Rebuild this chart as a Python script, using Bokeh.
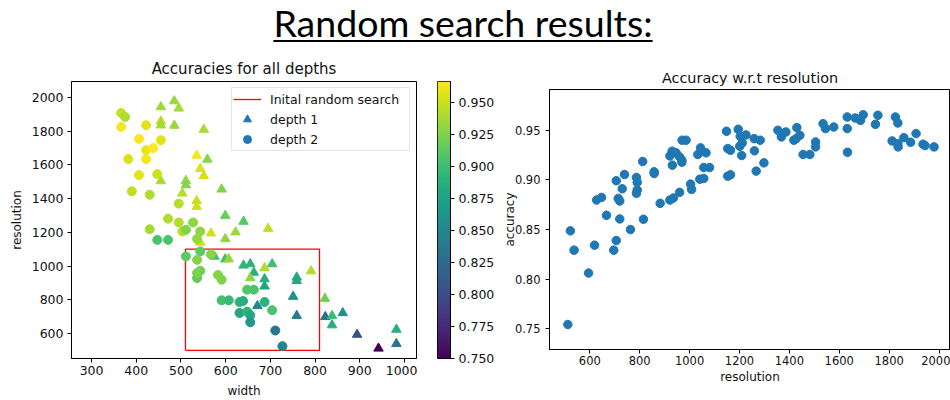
import numpy as np
from bokeh.plotting import figure
from bokeh.models import (ColumnDataSource, LinearColorMapper, FixedTicker,
                          PrintfTickFormatter, Range1d, Legend, LegendItem, Div)
from bokeh.layouts import column, row
from bokeh.palettes import Viridis256
from bokeh.embed import file_html
from bokeh.resources import INLINE

# ---------------- data: left plot (width vs resolution, colored by accuracy) -------------
depth1_width = [455, 485, 495, 455, 455, 485, 551, 535, 559, 543, 551, 511, 455, 511, 503,
                535, 535, 591, 599, 640, 567, 622, 695, 599, 543, 575, 599, 607, 640, 655,
                704, 663, 687, 655, 687, 687, 759, 759, 791, 751, 671, 759, 822, 823, 838,
                838, 862, 894, 942, 982, 982]
depth1_resolution = [1943, 1978, 1935, 1858, 1835, 1833, 1809, 1655, 1632, 1577, 1535, 1506, 1504,
                     1480, 1431, 1386, 1352, 1455, 1299, 1264, 1195, 1201, 1222, 1161, 1140, 1057,
                     1041, 1041, 1004, 1012, 1012, 962, 988, 929, 923, 880, 933, 913, 970, 819, 764,
                     706, 807, 699, 705, 650, 722, 594, 512, 624, 539]
depth1_accuracy = [0.935, 0.933, 0.936, 0.943, 0.937, 0.933, 0.939, 0.962, 0.928, 0.953, 0.952,
                   0.933, 0.938, 0.926, 0.942, 0.948, 0.950, 0.926, 0.917, 0.909, 0.951, 0.934,
                   0.945, 0.930, 0.949, 0.9015, 0.901, 0.932, 0.892, 0.8905, 0.900, 0.8875, 0.940,
                   0.929, 0.885, 0.876, 0.882, 0.880, 0.940, 0.860, 0.850, 0.839, 0.919, 0.829,
                   0.899, 0.886, 0.858, 0.806, 0.750, 0.885, 0.835]

depth2_width = [366, 375, 366, 422, 406, 455, 422, 438, 382, 422, 406, 447, 390, 430, 495,
                471, 430, 495, 527, 503, 511, 543, 447, 471, 536, 543, 511, 536, 567, 543,
                536, 536, 583, 591, 648, 663, 591, 607, 631, 639, 687, 704, 631, 648, 655,
                655, 711, 727]
depth2_resolution = [1907, 1884, 1825, 1835, 1754, 1746, 1687, 1700, 1634, 1634, 1539, 1545, 1443,
                     1423, 1370, 1281, 1218, 1258, 1258, 1205, 1215, 1205, 1155, 1155, 1161, 1087,
                     1057, 1037, 1069, 972, 929, 959, 947, 919, 860, 860, 797, 797, 787, 793, 787,
                     738, 722, 730, 709, 667, 618, 525]
depth2_accuracy = [0.947, 0.940, 0.963, 0.957, 0.965, 0.956, 0.960, 0.966, 0.955, 0.963, 0.957,
                   0.950, 0.945, 0.940, 0.943, 0.940, 0.937, 0.942, 0.929, 0.944, 0.925, 0.930,
                   0.904, 0.905, 0.932, 0.9125, 0.9125, 0.926, 0.927, 0.920, 0.915, 0.923, 0.927,
                   0.924, 0.908, 0.9065, 0.9025, 0.8975, 0.890, 0.8865, 0.890, 0.906, 0.879,
                   0.891, 0.881, 0.866, 0.834, 0.849]

# initial random search region
box_width = [510, 810]
box_resolution = [500, 1100]

# ---------------- data: right plot (accuracy vs resolution) ----------------
res_resolution = [512, 522, 537, 595, 619, 627, 647, 667, 696, 706, 706, 714, 720, 720, 730, 739,
                  763, 787, 790, 790, 787, 812, 815, 858, 858, 882, 921, 930, 931, 921, 935, 946,
                  960, 969, 969, 960, 970, 986, 1004, 1008, 1033, 1044, 1041, 1057, 1057, 1066,
                  1080, 1148, 1153, 1164, 1153, 1164, 1195, 1203, 1201, 1211, 1226, 1209, 1259,
                  1260, 1283, 1267, 1298, 1354, 1368, 1386, 1418, 1430, 1442, 1427, 1455, 1482,
                  1505, 1505, 1535, 1545, 1578, 1632, 1632, 1633, 1664, 1685, 1696, 1745, 1755,
                  1812, 1825, 1835, 1835, 1836, 1859, 1886, 1908, 1936, 1944, 1980]
res_accuracy = [0.7544, 0.8487, 0.8293, 0.8062, 0.8343, 0.8798, 0.8824, 0.8644, 0.8293, 0.8390,
                0.8992, 0.8814, 0.8788, 0.8607, 0.8911, 0.9055, 0.8500, 0.9025, 0.8975, 0.8898,
                0.8865, 0.9186, 0.8604, 0.9082, 0.9065, 0.8764, 0.9242, 0.9289, 0.9149, 0.8798,
                0.8818, 0.9273, 0.9232, 0.9199, 0.9179, 0.8875, 0.9400, 0.9400, 0.8958, 0.8905,
                0.9256, 0.9323, 0.9008, 0.9015, 0.9125, 0.9273, 0.9125, 0.9490, 0.9316, 0.9299,
                0.9038, 0.9052, 0.9510, 0.9440, 0.9339, 0.9373, 0.9453, 0.9246, 0.9416, 0.9293,
                0.9400, 0.9089, 0.9172, 0.9500, 0.9433, 0.9483, 0.9400, 0.9527, 0.9450, 0.9416,
                0.9256, 0.9256, 0.9383, 0.9333, 0.9567, 0.9517, 0.9533, 0.9634, 0.9517, 0.9279,
                0.9624, 0.9600, 0.9657, 0.9560, 0.9651, 0.9393, 0.9634, 0.9574, 0.9366, 0.9333,
                0.9426, 0.9380, 0.9467, 0.9360, 0.9346, 0.9333]

left_xticks = [300, 400, 500, 600, 700, 800, 900, 1000]
left_yticks = [600, 800, 1000, 1200, 1400, 1600, 1800, 2000]
cbar_ticks = [0.750, 0.775, 0.800, 0.825, 0.850, 0.875, 0.900, 0.925, 0.950]
right_xticks = [600, 800, 1000, 1200, 1400, 1600, 1800, 2000]
right_yticks = [0.75, 0.80, 0.85, 0.90, 0.95]

FONT = "DejaVu Sans"
TXT = "#111111"
BLUE = "#1f77b4"
FIG_H = 353


def style_axis(ax, size):
    ax.major_label_text_font = FONT
    ax.major_label_text_font_size = size
    ax.major_label_text_color = TXT
    ax.axis_label_text_font = FONT
    ax.axis_label_text_font_size = "12px"
    ax.axis_label_text_font_style = "normal"
    ax.axis_label_text_color = TXT
    ax.major_tick_in = 0
    ax.major_tick_out = 4
    ax.minor_tick_line_color = None
    ax.major_tick_line_color = "black"
    ax.axis_line_color = "black"


# ---------------- title ----------------
header = Div(
    text='<div style="width:926px;padding-top:0px;text-align:center;font-family:Lato;'
         'font-size:37.5px;line-height:45px;color:#000;white-space:nowrap;">'
         '<span style="text-decoration:underline;text-decoration-thickness:2px;'
         'text-underline-offset:3px;">Random search results:</span></div>',
    width=950, height=47, margin=(0, 0, 0, 0))

# ---------------- left plot ----------------
acc_all = depth1_accuracy + depth2_accuracy
mapper = LinearColorMapper(palette=Viridis256, low=min(acc_all), high=max(acc_all))

p1 = figure(width=417, height=FIG_H, output_backend="svg", toolbar_location=None,
            x_range=Range1d(255, 1027), y_range=Range1d(452, 2094),
            min_border_left=71, min_border_right=1, min_border_top=34, min_border_bottom=41,
            title="Accuracies for all depths", margin=(0, 0, 0, 0))
p1.title.text_font = FONT
p1.title.text_font_size = "15px"
p1.title.text_font_style = "normal"
p1.title.align = "center"
p1.title.standoff = 8
p1.title.text_color = TXT
p1.grid.visible = False
p1.outline_line_color = "black"
p1.outline_line_alpha = 1
p1.xaxis.ticker = FixedTicker(ticks=left_xticks)
p1.yaxis.ticker = FixedTicker(ticks=left_yticks)
p1.xaxis.axis_label = "width"
p1.yaxis.axis_label = "resolution"
for ax in (p1.xaxis[0], p1.yaxis[0]):
    style_axis(ax, "12.5px")
p1.xaxis.major_label_standoff = 3
p1.xaxis.axis_label_standoff = 6
p1.yaxis.major_label_standoff = 4
p1.yaxis.axis_label_standoff = 5

bx = [box_width[0], box_width[1], box_width[1], box_width[0], box_width[0]]
by = [box_resolution[0], box_resolution[0], box_resolution[1], box_resolution[1], box_resolution[0]]
r_box = p1.line(bx, by, line_color="#ff0000", line_width=1.3)

src1 = ColumnDataSource(dict(x=depth1_width, y=depth1_resolution, acc=depth1_accuracy))
src2 = ColumnDataSource(dict(x=depth2_width, y=depth2_resolution, acc=depth2_accuracy))
cmap = {"field": "acc", "transform": mapper}
p1.scatter("x", "y", source=src1, marker="triangle", size=9.5, fill_color=cmap, line_color=cmap)
p1.scatter("x", "y", source=src2, marker="circle", size=9, fill_color=cmap, line_color=cmap)

# legend handles: plain blue markers, hidden in the plot area
proxy_tri = p1.scatter("x", "y", source=src1, marker="triangle",
                       fill_color=BLUE, line_color=BLUE, visible=False)
proxy_cir = p1.scatter("x", "y", source=src2, marker="circle",
                       fill_color=BLUE, line_color=BLUE, visible=False)
legend = Legend(items=[LegendItem(label="Inital random search", renderers=[r_box]),
                       LegendItem(label="depth 1", renderers=[proxy_tri]),
                       LegendItem(label="depth 2", renderers=[proxy_cir])],
                location="top_right", margin=6, padding=1, spacing=0,
                glyph_width=28, glyph_height=20, label_standoff=9, label_width=138,
                label_text_font=FONT, label_text_font_size="12.5px", label_text_color=TXT,
                border_line_color="#cccccc", border_line_width=1,
                background_fill_color="white", background_fill_alpha=0.8,
                inactive_fill_alpha=0)
p1.add_layout(legend)

# ---------------- colour bar (own small figure) ----------------
pc = figure(width=80, height=FIG_H, output_backend="svg", toolbar_location=None,
            x_range=Range1d(0, 1), y_range=Range1d(mapper.low, mapper.high),
            min_border_left=20, min_border_right=47, min_border_top=34, min_border_bottom=40,
            x_axis_location=None, y_axis_location="right", margin=(0, 0, 0, 0))
pc.grid.visible = False
pc.outline_line_color = "black"
grad = np.linspace(mapper.low, mapper.high, 256).reshape(256, 1)
pc.image(image=[grad], x=0, y=mapper.low, dw=1, dh=mapper.high - mapper.low, color_mapper=mapper)
pc.yaxis.ticker = FixedTicker(ticks=cbar_ticks)
pc.yaxis.formatter = PrintfTickFormatter(format="%.3f")
style_axis(pc.yaxis[0], "12.5px")
pc.yaxis.major_label_standoff = 4

# ---------------- right plot ----------------
p2 = figure(width=453, height=336, output_backend="svg", toolbar_location=None,
            x_range=Range1d(438.4, 2046), y_range=Range1d(0.7292, 0.9911),
            min_border_left=52, min_border_right=0, min_border_top=34, min_border_bottom=41,
            title="Accuracy w.r.t resolution", margin=(8, 0, 0, 0))
p2.title.text_font = FONT
p2.title.text_font_size = "14.4px"
p2.title.text_font_style = "normal"
p2.title.align = "center"
p2.title.standoff = 7
p2.title.text_color = TXT
p2.grid.visible = False
p2.outline_line_color = "black"
p2.xaxis.ticker = FixedTicker(ticks=right_xticks)
p2.yaxis.ticker = FixedTicker(ticks=right_yticks)
p2.yaxis.formatter = PrintfTickFormatter(format="%.2f")
p2.xaxis.axis_label = "resolution"
p2.yaxis.axis_label = "accuracy"
for ax in (p2.xaxis[0], p2.yaxis[0]):
    style_axis(ax, "11.5px")
p2.xaxis.major_label_standoff = 2
p2.xaxis.axis_label_standoff = 2
p2.yaxis.major_label_standoff = 5
p2.yaxis.axis_label_standoff = -5

p2.scatter(res_resolution, res_accuracy, marker="circle", size=8.5,
           fill_color=BLUE, line_color=BLUE)

layout = column(header, row(p1, pc, p2, margin=(0, 0, 0, 0)), margin=(0, 0, 0, 0))

with open("out.html", "w") as f:
    f.write(file_html(layout, INLINE))
